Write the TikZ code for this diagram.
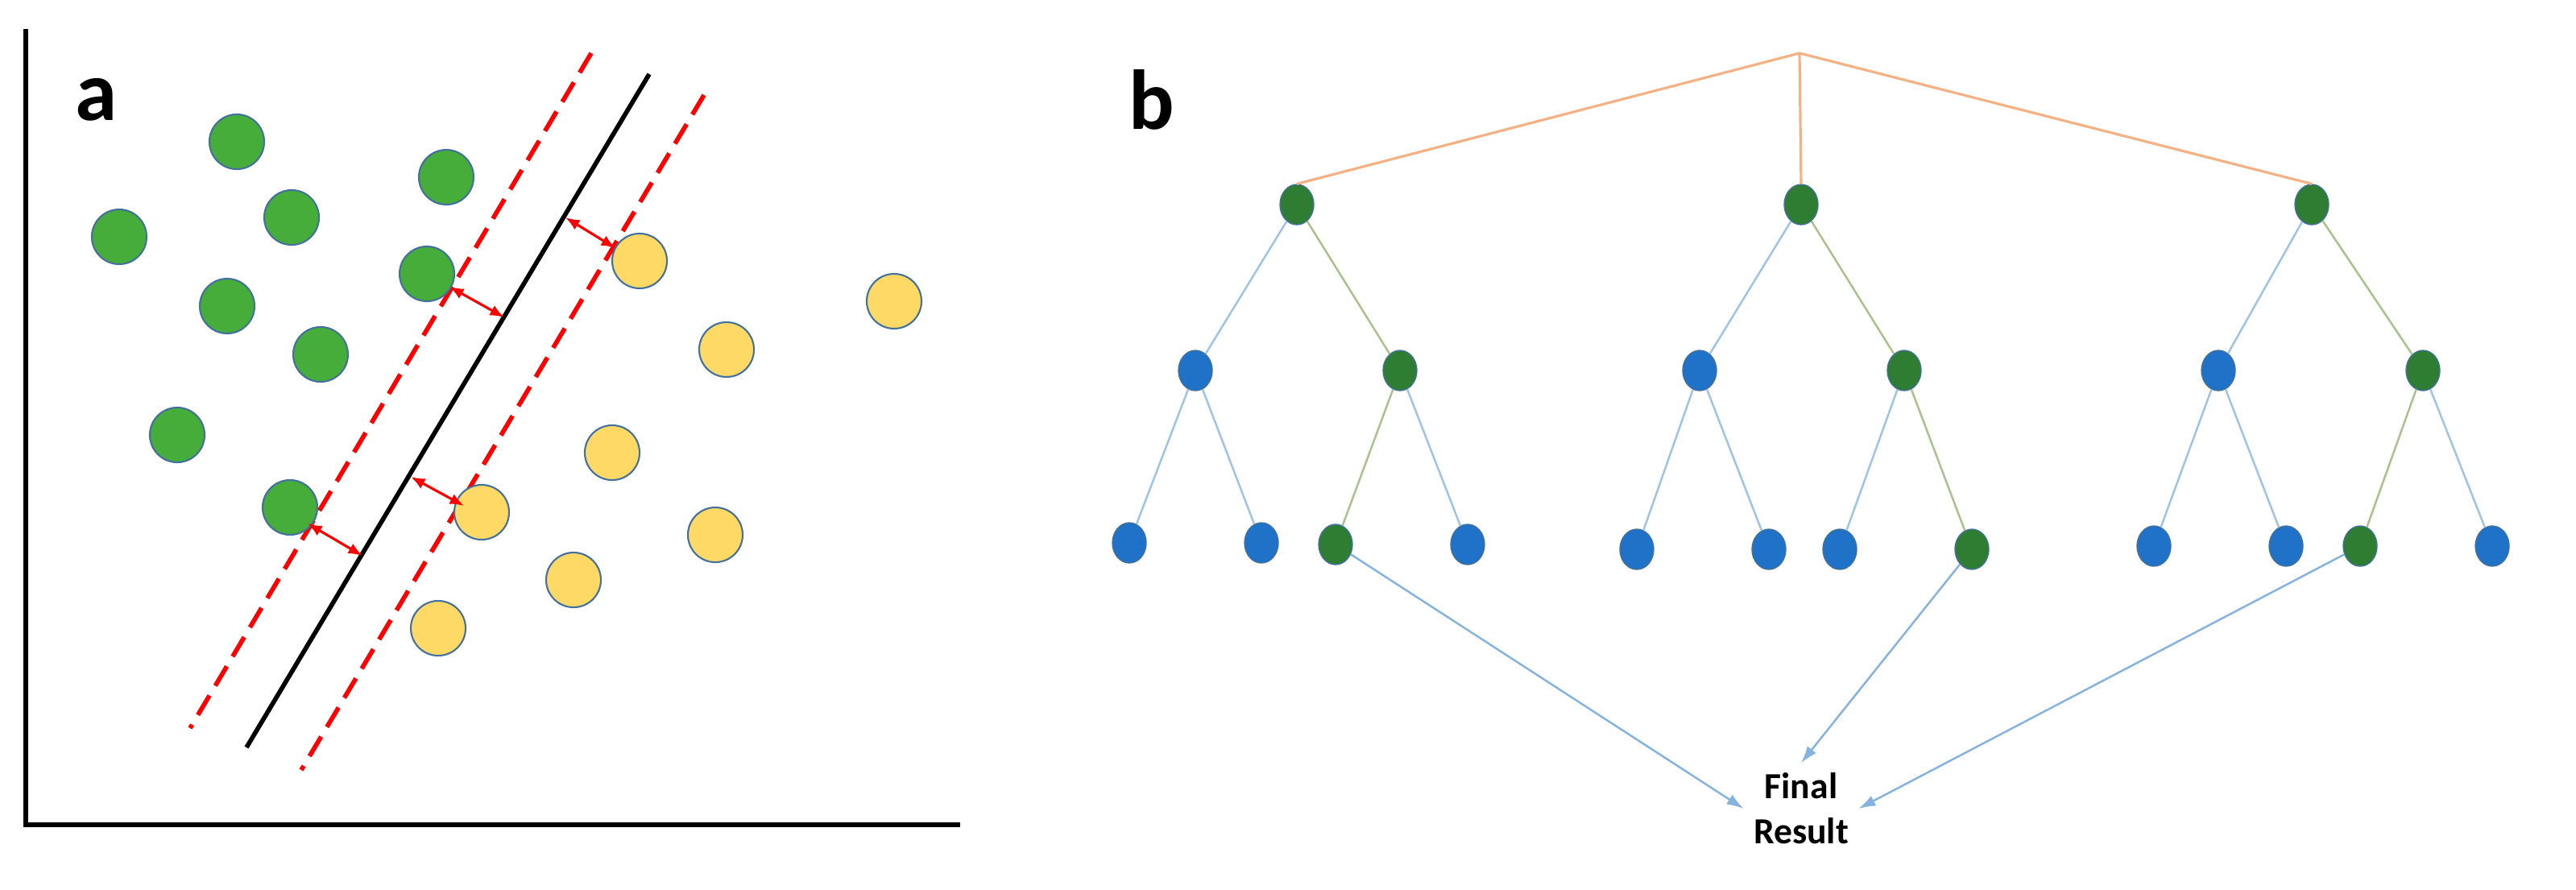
\documentclass[tikz,border=0pt]{standalone}
\usepackage{fontspec}
\setmainfont{Carlito}
\usetikzlibrary{arrows.meta}
\definecolor{gA}{HTML}{46AC3A}
\definecolor{yA}{HTML}{FFD966}
\definecolor{oT}{HTML}{41719C}
\definecolor{gT}{HTML}{2E7D32}
\definecolor{bT}{HTML}{1F72C8}
\definecolor{eB}{HTML}{9DC3E6}
\definecolor{eG}{HTML}{A9C18A}
\definecolor{eO}{HTML}{F4B183}
\tikzset{
 gp/.style={circle,draw=oT,fill=gA,line width=0.6pt,minimum size=34\un,inner sep=0},
 yp/.style={circle,draw=oT,fill=yA,line width=0.6pt,minimum size=34\un,inner sep=0},
 gn/.style={ellipse,draw=oT,fill=gT,line width=0.4pt,minimum width=21\un,minimum height=25\un,inner sep=0},
 bn/.style={ellipse,draw=oT,fill=bT,line width=0.4pt,minimum width=21\un,minimum height=25\un,inner sep=0},
 eb/.style={draw=eB,line width=0.7pt},
 eg/.style={draw=eG,line width=0.7pt},
 eo/.style={draw=eO,line width=0.9pt},
 fa/.style={draw=eB!80!bT,line width=0.7pt,-{Latex[length=6pt,width=4pt]}},
 ra/.style={red,line width=0.9pt,{Latex[length=5pt,width=4pt]}-{Latex[length=5pt,width=4pt]}},
 lab/.style={font=\bfseries\fontsize{30}{30}\selectfont}
}
\newlength{\un}\setlength{\un}{0.02cm}
\usetikzlibrary{shapes.geometric}
\begin{document}
\begin{tikzpicture}[x=0.02cm,y=-0.02cm]
\useasboundingbox (0,0) rectangle (1599,552);
% panel a
\draw[line width=1.6pt] (16,18) -- (16,512) -- (596,512);
\node[lab] (la) at (60,62) {a};
\draw[red,line width=1.6pt,dash pattern=on 8pt off 4pt] (367,33) -- (118,452);
\draw[red,line width=1.6pt,dash pattern=on 8pt off 4pt] (437,59) -- (187,478);
\draw[line width=1.6pt] (403,46) -- (153,464);
\foreach \n/\x/\y in {g1/147/88,g2/74/147,g3/181/135,g4/277/110,g5/141/190,g6/265/170,g7/199/220,g8/110/270,g9/180/315}
 \node[gp] (\n) at (\x,\y) {};
\foreach \n/\x/\y in {y1/397/162,y2/555/187,y3/451/217,y4/380/281,y5/299/318,y6/444/332,y7/356/360,y8/272/390}
 \node[yp] (\n) at (\x,\y) {};
\coordinate (a1s) at (279,178); \coordinate (a1e) at (313,197);
\coordinate (a2s) at (382,154); \coordinate (a2e) at (351,135);
\coordinate (a3s) at (191,325); \coordinate (a3e) at (225,345);
\coordinate (a4s) at (288,314); \coordinate (a4e) at (255,296);
\draw[ra] (a1s) -- (a1e);
\draw[ra] (a2s) -- (a2e);
\draw[ra] (a3s) -- (a3e);
\draw[ra] (a4s) -- (a4e);
% panel b
\node[lab] (lb) at (715,62) {b};
\coordinate (r) at (1117,33);
\node[gn] (t1) at (805,127) {};
\node[gn] (t2) at (1118,127) {};
\node[gn] (t3) at (1435,127) {};
\node[bn] (t1a) at (742,230) {}; \node[gn] (t1b) at (869,230) {};
\node[bn] (t2a) at (1055,230) {}; \node[gn] (t2b) at (1182,230) {};
\node[bn] (t3a) at (1377,230) {}; \node[gn] (t3b) at (1504,230) {};
\node[bn] (l1) at (701,337) {}; \node[bn] (l2) at (783,337) {};
\node[gn] (l3) at (829,338) {}; \node[bn] (l4) at (911,338) {};
\node[bn] (l5) at (1016,341) {}; \node[bn] (l6) at (1098,341) {};
\node[bn] (l7) at (1142,341) {}; \node[gn] (l8) at (1224,341) {};
\node[bn] (l9) at (1337,339) {}; \node[bn] (l10) at (1419,339) {};
\node[gn] (l11) at (1465,339) {}; \node[bn] (l12) at (1547,339) {};
\draw[eo] (r) -- (t1.north); \draw[eo] (r) -- (t2.north); \draw[eo] (r) -- (t3.north);
\draw[eb] (t1) -- (t1a); \draw[eg] (t1) -- (t1b);
\draw[eb] (t2) -- (t2a); \draw[eg] (t2) -- (t2b);
\draw[eb] (t3) -- (t3a); \draw[eg] (t3) -- (t3b);
\draw[eb] (t1a) -- (l1); \draw[eb] (t1a) -- (l2); \draw[eg] (t1b) -- (l3); \draw[eb] (t1b) -- (l4);
\draw[eb] (t2a) -- (l5); \draw[eb] (t2a) -- (l6); \draw[eb] (t2b) -- (l7); \draw[eg] (t2b) -- (l8);
\draw[eb] (t3a) -- (l9); \draw[eb] (t3a) -- (l10); \draw[eg] (t3b) -- (l11); \draw[eb] (t3b) -- (l12);
\node[font=\bfseries\fontsize{13}{16}\selectfont,align=center] (fr) at (1118,502) {Final\\Result};
\draw[fa] (l3) -- (fr.west);
\draw[fa] (l8) -- (fr.north);
\draw[fa] (l11) -- (fr.east);
\end{tikzpicture}
\end{document}
